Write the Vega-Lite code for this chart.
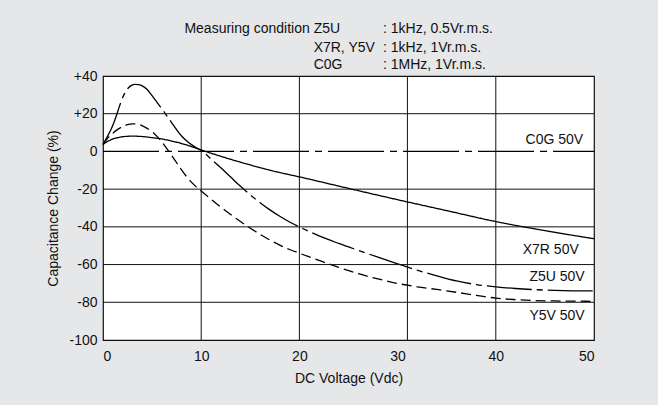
{
  "$schema": "https://vega.github.io/schema/vega-lite/v6.json",
  "width": 491,
  "height": 264,
  "autosize": {"type": "none"},
  "padding": {"left": 103, "top": 76, "right": 64, "bottom": 65},
  "background": "#e6e7e9",
  "config": {
    "font": "Liberation Sans",
    "view": {"fill": "white", "stroke": "#111", "strokeWidth": 1.2},
    "axis": {
      "ticks": false,
      "domain": false,
      "grid": false,
      "labelFont": "Liberation Sans",
      "labelFontSize": 14,
      "labelColor": "#111",
      "titleFont": "Liberation Sans",
      "titleFontSize": 14,
      "titleFontWeight": "normal",
      "titleColor": "#111"
    },
    "text": {"font": "Liberation Sans", "fontSize": 14, "color": "#111", "baseline": "middle"}
  },
  "datasets": {
    "curves": [
      {"s": "C0G", "x": 0, "y": 0}, {"s": "C0G", "x": 50, "y": 0},
      {"s": "X7R", "x": 0, "y": 3.7}, {"s": "X7R", "x": 0.5, "y": 5.4}, {"s": "X7R", "x": 1, "y": 6.6}, {"s": "X7R", "x": 1.5, "y": 7.3}, {"s": "X7R", "x": 2, "y": 7.8}, {"s": "X7R", "x": 3, "y": 8.1}, {"s": "X7R", "x": 4, "y": 7.9}, {"s": "X7R", "x": 5, "y": 7.3}, {"s": "X7R", "x": 6, "y": 6.6}, {"s": "X7R", "x": 7, "y": 5.5}, {"s": "X7R", "x": 8, "y": 4.2}, {"s": "X7R", "x": 9, "y": 2.6}, {"s": "X7R", "x": 10, "y": 0.8}, {"s": "X7R", "x": 12, "y": -2.6}, {"s": "X7R", "x": 14, "y": -5.7}, {"s": "X7R", "x": 16, "y": -8.6}, {"s": "X7R", "x": 18, "y": -11.2}, {"s": "X7R", "x": 20, "y": -13.5}, {"s": "X7R", "x": 25, "y": -19.6}, {"s": "X7R", "x": 30, "y": -25.6}, {"s": "X7R", "x": 35, "y": -31.4}, {"s": "X7R", "x": 40, "y": -37.2}, {"s": "X7R", "x": 45, "y": -42}, {"s": "X7R", "x": 50, "y": -46.3},
      {"s": "Z5U", "x": 0, "y": 3.7}, {"s": "Z5U", "x": 0.4, "y": 7.5}, {"s": "Z5U", "x": 0.85, "y": 12}, {"s": "Z5U", "x": 1.2, "y": 16.5}, {"s": "Z5U", "x": 1.55, "y": 22}, {"s": "Z5U", "x": 1.9, "y": 27.2}, {"s": "Z5U", "x": 2.2, "y": 30.8}, {"s": "Z5U", "x": 2.55, "y": 33.5}, {"s": "Z5U", "x": 2.9, "y": 35}, {"s": "Z5U", "x": 3.25, "y": 35.6}, {"s": "Z5U", "x": 3.6, "y": 35.4}, {"s": "Z5U", "x": 4, "y": 34.8}, {"s": "Z5U", "x": 4.5, "y": 32.8}, {"s": "Z5U", "x": 5, "y": 29.6}, {"s": "Z5U", "x": 5.5, "y": 26}, {"s": "Z5U", "x": 6, "y": 22.5}, {"s": "Z5U", "x": 6.5, "y": 18.9}, {"s": "Z5U", "x": 7, "y": 15.2}, {"s": "Z5U", "x": 7.5, "y": 11.5}, {"s": "Z5U", "x": 8, "y": 8.2}, {"s": "Z5U", "x": 8.5, "y": 5.7}, {"s": "Z5U", "x": 9, "y": 3.6}, {"s": "Z5U", "x": 9.5, "y": 1.9}, {"s": "Z5U", "x": 10, "y": 0.5}, {"s": "Z5U", "x": 11, "y": -4}, {"s": "Z5U", "x": 12, "y": -8.7}, {"s": "Z5U", "x": 13, "y": -13.6}, {"s": "Z5U", "x": 14, "y": -18.5}, {"s": "Z5U", "x": 15, "y": -23}, {"s": "Z5U", "x": 16, "y": -27.2}, {"s": "Z5U", "x": 17, "y": -31}, {"s": "Z5U", "x": 18, "y": -34.4}, {"s": "Z5U", "x": 19, "y": -37.4}, {"s": "Z5U", "x": 20, "y": -40}, {"s": "Z5U", "x": 22, "y": -44.8}, {"s": "Z5U", "x": 24, "y": -48.8}, {"s": "Z5U", "x": 26, "y": -52.5}, {"s": "Z5U", "x": 28, "y": -56.1}, {"s": "Z5U", "x": 30, "y": -59.6}, {"s": "Z5U", "x": 32, "y": -63}, {"s": "Z5U", "x": 34, "y": -66}, {"s": "Z5U", "x": 36, "y": -68.7}, {"s": "Z5U", "x": 38, "y": -70.6}, {"s": "Z5U", "x": 40, "y": -71.8}, {"s": "Z5U", "x": 42, "y": -72.7}, {"s": "Z5U", "x": 44, "y": -73.3}, {"s": "Z5U", "x": 46, "y": -73.7}, {"s": "Z5U", "x": 48, "y": -73.9}, {"s": "Z5U", "x": 50, "y": -74},
      {"s": "Y5V", "x": 0, "y": 3.7}, {"s": "Y5V", "x": 0.5, "y": 7.2}, {"s": "Y5V", "x": 1, "y": 9.7}, {"s": "Y5V", "x": 1.5, "y": 11.7}, {"s": "Y5V", "x": 2, "y": 13.2}, {"s": "Y5V", "x": 2.5, "y": 14.2}, {"s": "Y5V", "x": 3, "y": 14.6}, {"s": "Y5V", "x": 3.5, "y": 14.5}, {"s": "Y5V", "x": 4, "y": 13.6}, {"s": "Y5V", "x": 4.5, "y": 12.2}, {"s": "Y5V", "x": 5, "y": 10.5}, {"s": "Y5V", "x": 5.5, "y": 8}, {"s": "Y5V", "x": 6, "y": 5}, {"s": "Y5V", "x": 6.5, "y": 1.5}, {"s": "Y5V", "x": 7, "y": -2.2}, {"s": "Y5V", "x": 7.5, "y": -6}, {"s": "Y5V", "x": 8, "y": -9.8}, {"s": "Y5V", "x": 8.5, "y": -13.3}, {"s": "Y5V", "x": 9, "y": -16.3}, {"s": "Y5V", "x": 9.5, "y": -18.8}, {"s": "Y5V", "x": 10, "y": -21}, {"s": "Y5V", "x": 11, "y": -25.3}, {"s": "Y5V", "x": 12, "y": -29.5}, {"s": "Y5V", "x": 13, "y": -33.4}, {"s": "Y5V", "x": 14, "y": -37.2}, {"s": "Y5V", "x": 15, "y": -40.7}, {"s": "Y5V", "x": 16, "y": -44}, {"s": "Y5V", "x": 17, "y": -47}, {"s": "Y5V", "x": 18, "y": -49.7}, {"s": "Y5V", "x": 19, "y": -52}, {"s": "Y5V", "x": 20, "y": -54}, {"s": "Y5V", "x": 22, "y": -57.8}, {"s": "Y5V", "x": 24, "y": -61.5}, {"s": "Y5V", "x": 26, "y": -64.8}, {"s": "Y5V", "x": 28, "y": -67.6}, {"s": "Y5V", "x": 30, "y": -70}, {"s": "Y5V", "x": 32, "y": -71.8}, {"s": "Y5V", "x": 34, "y": -73.2}, {"s": "Y5V", "x": 36, "y": -74.7}, {"s": "Y5V", "x": 38, "y": -76.3}, {"s": "Y5V", "x": 40, "y": -77.8}, {"s": "Y5V", "x": 42, "y": -78.6}, {"s": "Y5V", "x": 44, "y": -79.1}, {"s": "Y5V", "x": 46, "y": -79.3}, {"s": "Y5V", "x": 48, "y": -79.4}, {"s": "Y5V", "x": 50, "y": -79.5}
    ],
    "vgrid": [{"x": 10}, {"x": 20}, {"x": 31}, {"x": 40}],
    "hgrid": [{"y": 20}, {"y": -20}, {"y": -40}, {"y": -60}, {"y": -80}],
    "notes": [
      {"t": "Measuring condition", "x": 21.05, "y": 64.8, "a": "right"},
      {"t": "C0G 50V", "x": 48.9, "y": 5.9, "a": "right"},
      {"t": "X7R 50V", "x": 48.45, "y": -52.2, "a": "right"},
      {"t": "Z5U 50V", "x": 49.05, "y": -66.4, "a": "right"},
      {"t": "Y5V 50V", "x": 49.05, "y": -87.1, "a": "right"},
      {"t": "Z5U", "x": 21.45, "y": 64.8, "a": "left"},
      {"t": "X7R, Y5V", "x": 21.45, "y": 54.9, "a": "left"},
      {"t": "C0G", "x": 21.45, "y": 45.7, "a": "left"},
      {"t": ": 1kHz, 0.5Vr.m.s.", "x": 28.51, "y": 64.8, "a": "left"},
      {"t": ": 1kHz, 1Vr.m.s.", "x": 28.51, "y": 54.9, "a": "left"},
      {"t": ": 1MHz, 1Vr.m.s.", "x": 28.51, "y": 45.7, "a": "left"}
    ]
  },
  "layer": [
    {
      "data": {"name": "curves"},
      "mark": {"type": "line", "color": "#000", "strokeWidth": 1.3, "interpolate": "monotone"},
      "encoding": {
        "x": {
          "field": "x", "type": "quantitative",
          "scale": {"domain": [0, 50], "nice": false, "zero": false},
          "axis": {"values": [0, 10, 20, 30, 40, 50], "labelPadding": 9, "title": "DC Voltage (Vdc)", "titlePadding": 8}
        },
        "y": {
          "field": "y", "type": "quantitative",
          "scale": {"domain": [-100, 40], "nice": false, "zero": false},
          "axis": {"values": [-100, -80, -60, -40, -20, 0, 20, 40], "labelPadding": 6, "labelExpr": "datum.value > 0 ? '+' + datum.value : '' + datum.value", "title": "Capacitance Change (%)", "titlePadding": 8}
        },
        "detail": {"field": "s"},
        "strokeDash": {
          "field": "s", "type": "nominal", "legend": null,
          "scale": {"domain": ["C0G", "X7R", "Z5U", "Y5V"], "range": [[56, 6, 7, 6], [1, 0], [45, 5, 6, 5], [10, 5]]}
        }
      }
    },
    {
      "data": {"name": "vgrid"},
      "mark": {"type": "rule", "color": "#111", "strokeWidth": 1},
      "encoding": {
        "x": {"field": "x", "type": "quantitative", "scale": {"domain": [0, 50], "nice": false, "zero": false},
          "axis": {"values": [0, 10, 20, 30, 40, 50], "labelPadding": 9, "title": "DC Voltage (Vdc)", "titlePadding": 8}}
      }
    },
    {
      "data": {"name": "hgrid"},
      "mark": {"type": "rule", "color": "#111", "strokeWidth": 1},
      "encoding": {
        "y": {"field": "y", "type": "quantitative", "scale": {"domain": [-100, 40], "nice": false, "zero": false},
          "axis": {"values": [-100, -80, -60, -40, -20, 0, 20, 40], "labelPadding": 6, "labelExpr": "datum.value > 0 ? '+' + datum.value : '' + datum.value", "title": "Capacitance Change (%)", "titlePadding": 8}}
      }
    },
    {
      "data": {"name": "notes"},
      "transform": [{"filter": "datum.a == 'right'"}],
      "mark": {"type": "text", "align": "right"},
      "encoding": {
        "x": {"field": "x", "type": "quantitative", "scale": {"domain": [0, 50], "nice": false, "zero": false},
          "axis": {"values": [0, 10, 20, 30, 40, 50], "labelPadding": 9, "title": "DC Voltage (Vdc)", "titlePadding": 8}},
        "y": {"field": "y", "type": "quantitative", "scale": {"domain": [-100, 40], "nice": false, "zero": false},
          "axis": {"values": [-100, -80, -60, -40, -20, 0, 20, 40], "labelPadding": 6, "labelExpr": "datum.value > 0 ? '+' + datum.value : '' + datum.value", "title": "Capacitance Change (%)", "titlePadding": 8}},
        "text": {"field": "t"}
      }
    },
    {
      "data": {"name": "notes"},
      "transform": [{"filter": "datum.a == 'left'"}],
      "mark": {"type": "text", "align": "left"},
      "encoding": {
        "x": {"field": "x", "type": "quantitative", "scale": {"domain": [0, 50], "nice": false, "zero": false},
          "axis": {"values": [0, 10, 20, 30, 40, 50], "labelPadding": 9, "title": "DC Voltage (Vdc)", "titlePadding": 8}},
        "y": {"field": "y", "type": "quantitative", "scale": {"domain": [-100, 40], "nice": false, "zero": false},
          "axis": {"values": [-100, -80, -60, -40, -20, 0, 20, 40], "labelPadding": 6, "labelExpr": "datum.value > 0 ? '+' + datum.value : '' + datum.value", "title": "Capacitance Change (%)", "titlePadding": 8}},
        "text": {"field": "t"}
      }
    }
  ]
}
